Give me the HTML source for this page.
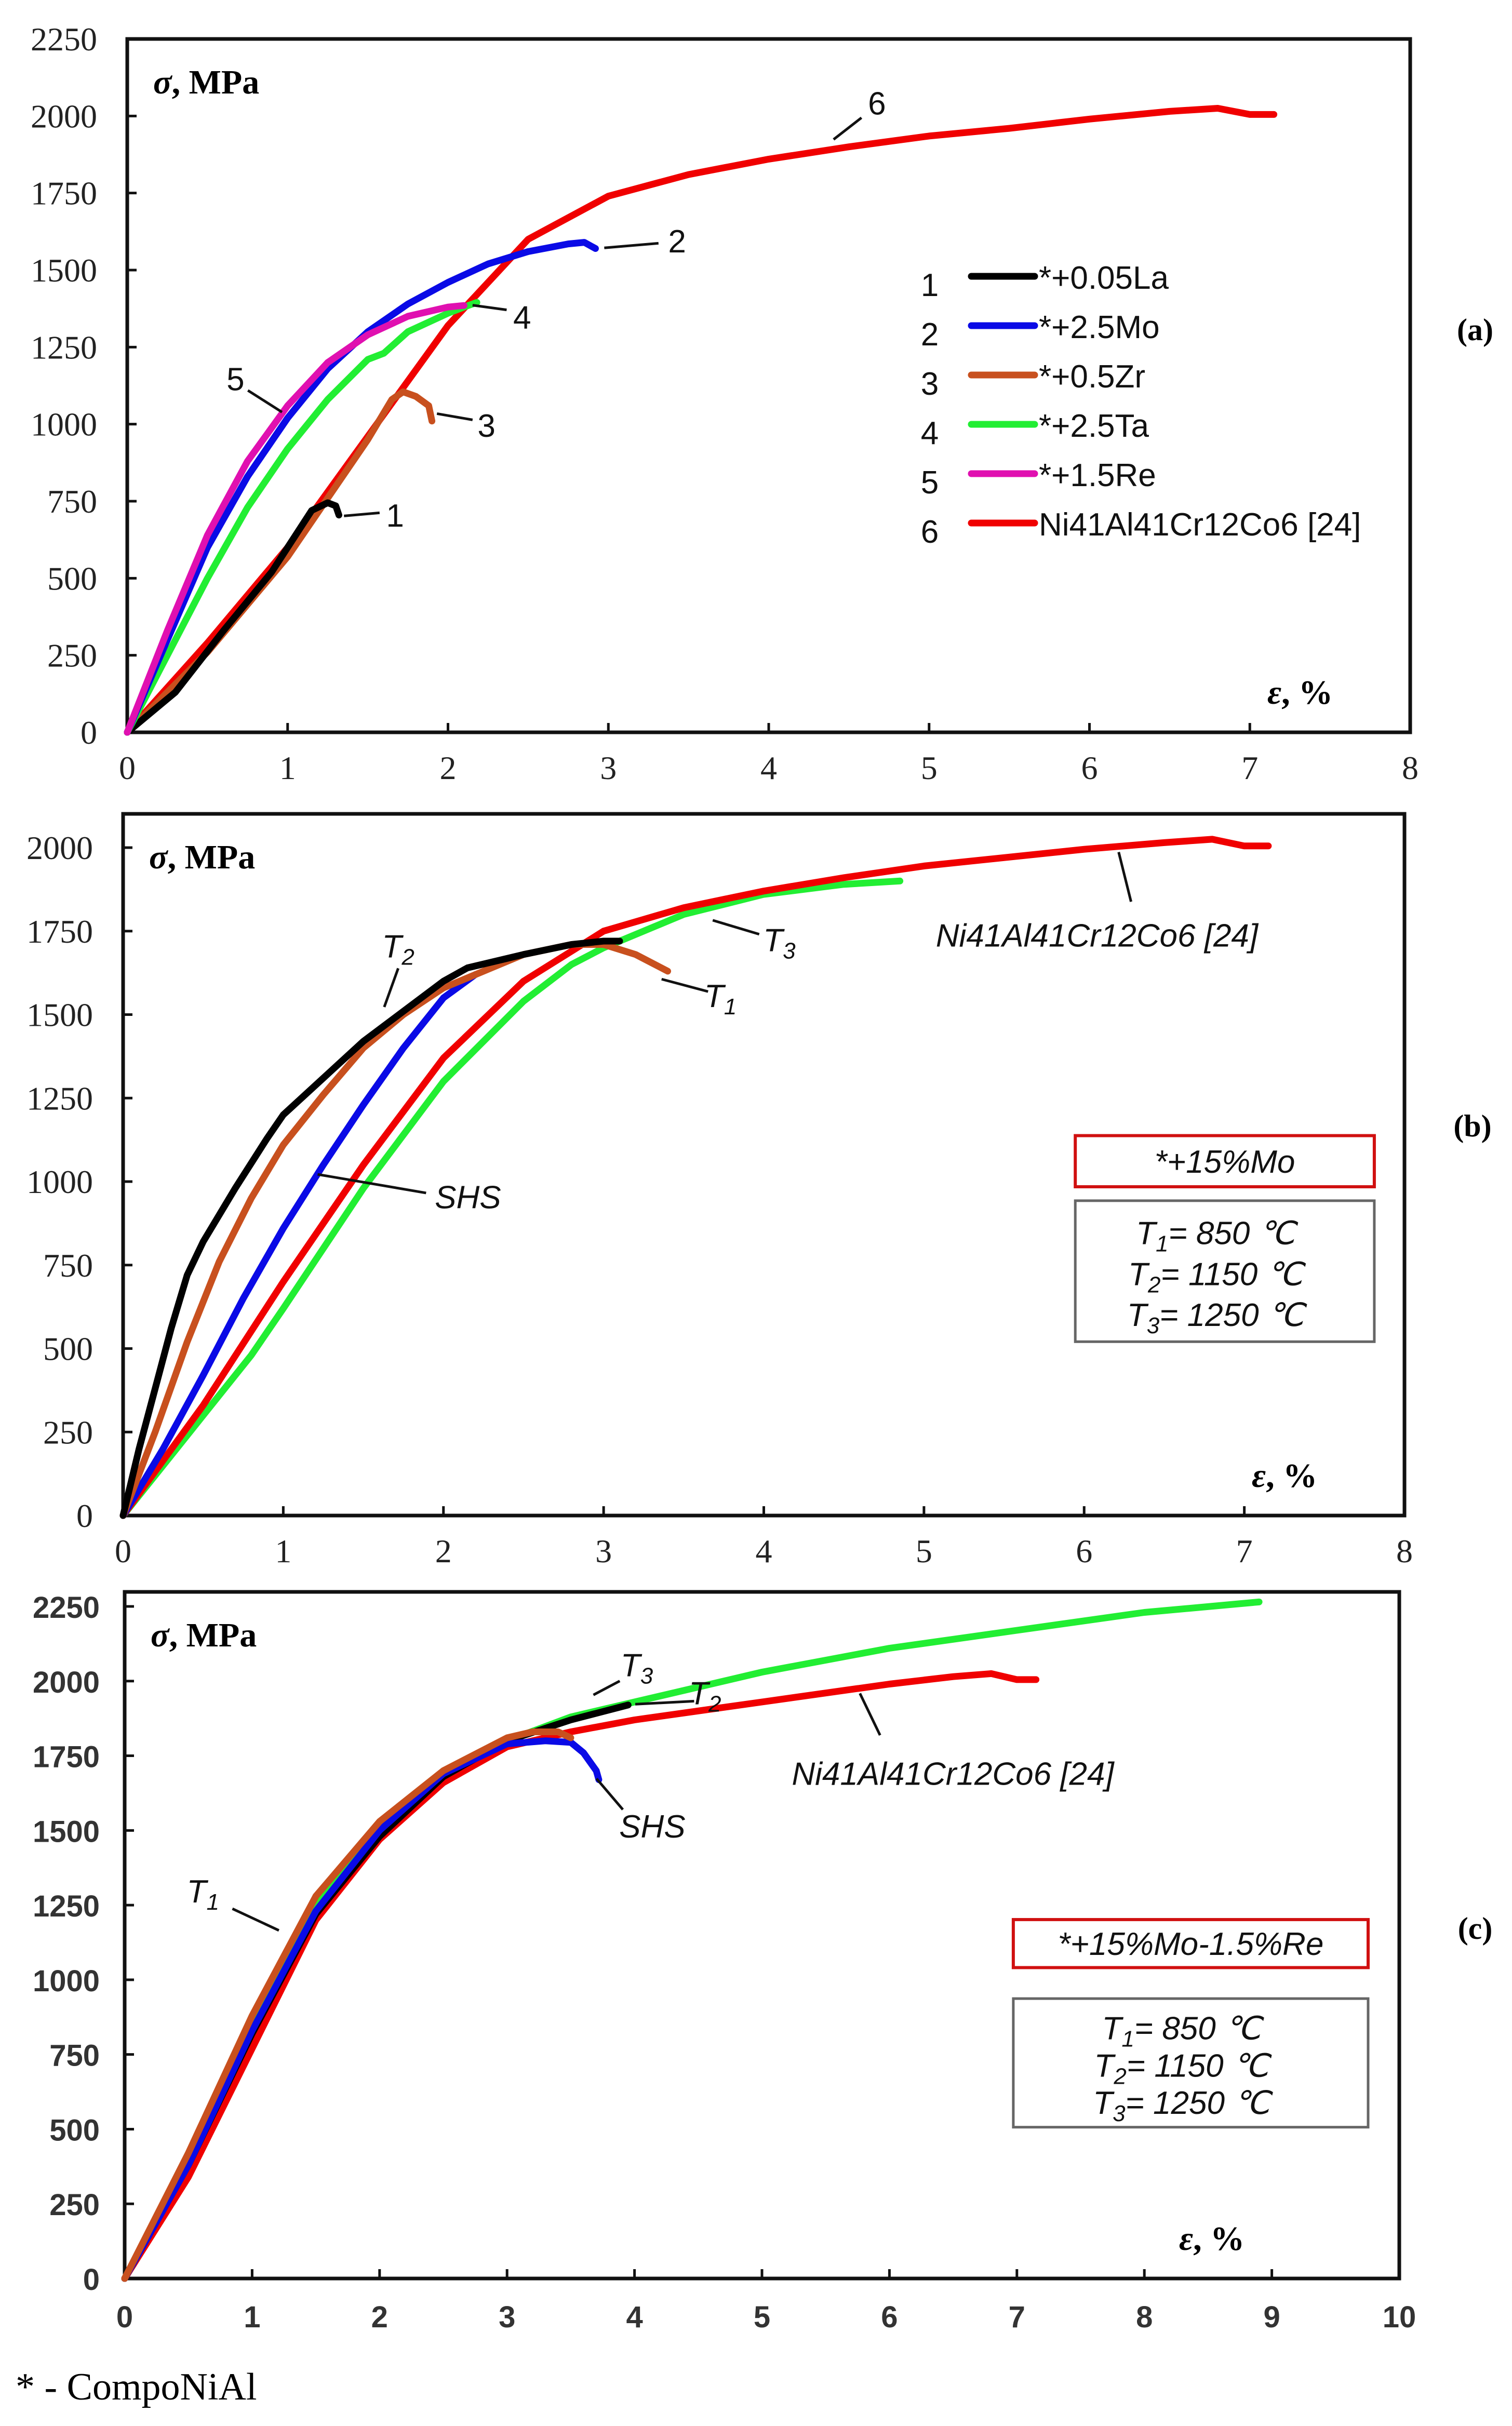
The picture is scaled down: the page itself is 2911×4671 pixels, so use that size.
<!DOCTYPE html>
<html><head><meta charset="utf-8"><style>
html,body{margin:0;padding:0;background:#fff;}
svg{display:block;}
.tk{font-family:"Liberation Serif",serif;font-size:64px;fill:#222;}
.tks{font-family:"Liberation Sans",sans-serif;font-size:58px;fill:#333;font-weight:bold;}
.ax{font-family:"Liberation Serif",serif;font-size:66px;font-weight:bold;fill:#000;}
.lg{font-family:"Liberation Sans",sans-serif;font-size:62px;fill:#111;}
.an{font-family:"Liberation Sans",sans-serif;font-size:62px;fill:#111;}
.it{font-family:"Liberation Sans",sans-serif;font-size:62px;font-style:italic;fill:#111;}
.pl{font-family:"Liberation Serif",serif;font-size:60px;font-weight:bold;fill:#000;}
</style></head><body>
<svg id="fig" width="2911" height="4671" viewBox="0 0 2911 4671" xmlns="http://www.w3.org/2000/svg"></svg>
<script>
// ---- Panel (a) data: strain %, stress MPa ----
const aLaX=[0,0.3,0.6,0.9,1.05,1.15,1.25,1.3,1.32];
const aLaY=[0,130,330,520,640,720,745,735,705];
const aMoX=[0,0.25,0.5,0.75,1,1.25,1.5,1.75,2,2.25,2.5,2.75,2.85,2.92];
const aMoY=[0,300,600,830,1020,1180,1300,1390,1460,1520,1560,1585,1590,1570];
const aZrX=[0,0.5,1,1.25,1.5,1.65,1.72,1.8,1.88,1.9];
const aZrY=[0,260,570,760,950,1080,1105,1090,1060,1010];
const aTaX=[0,0.25,0.5,0.75,1,1.25,1.5,1.6,1.75,2,2.1,2.18];
const aTaY=[0,250,500,730,920,1080,1210,1230,1300,1360,1380,1395];
const aReX=[0,0.25,0.5,0.75,1,1.25,1.5,1.75,2,2.1];
const aReY=[0,330,640,880,1060,1200,1290,1350,1380,1385];
const aRefX=[0,0.5,1,1.5,2,2.5,3,3.5,4,4.5,5,5.5,6,6.5,6.8,7,7.15];
const aRefY=[0,290,600,960,1320,1600,1740,1810,1860,1900,1935,1960,1990,2015,2025,2005,2005];
// ---- Panel (b) data ----
const bT2X=[0,0.1,0.2,0.3,0.4,0.5,0.7,0.9,1,1.25,1.5,1.75,2,2.15,2.5,2.8,3,3.1];
const bT2Y=[0,200,380,560,720,820,980,1130,1200,1310,1420,1510,1600,1640,1680,1710,1720,1720];
const bT1X=[0,0.2,0.4,0.6,0.8,1,1.25,1.5,1.75,2,2.5,2.8,3,3.2,3.4];
const bT1Y=[0,250,520,760,950,1110,1260,1400,1500,1580,1680,1710,1710,1680,1630];
const bShsX=[0,0.25,0.5,0.75,1,1.25,1.5,1.75,2,2.2];
const bShsY=[0,200,420,650,860,1050,1230,1400,1550,1620];
const bRefX=[0,0.5,1,1.5,2,2.5,3,3.5,4,4.5,5,5.5,6,6.5,6.8,7,7.15];
const bRefY=[0,330,700,1050,1370,1600,1750,1820,1870,1910,1945,1970,1995,2015,2025,2005,2005];
const bT3X=[0,0.25,0.5,0.8,1,1.25,1.5,2,2.5,2.8,3,3.5,4,4.5,4.85];
const bT3Y=[0,150,300,480,620,800,980,1300,1540,1650,1700,1800,1860,1890,1900];
// ---- Panel (c) data ----
const cT3X=[0,0.5,1,1.5,2,2.5,3,3.5,4,5,6,7,8,8.9];
const cT3Y=[0,400,850,1250,1500,1680,1800,1880,1930,2030,2110,2170,2230,2265];
const cT2X=[0,0.5,1,1.5,2,2.5,3,3.5,3.95];
const cT2Y=[0,380,820,1220,1480,1680,1800,1870,1920];
const cShsX=[0,0.5,1,1.5,2,2.5,3,3.3,3.5,3.6,3.7,3.72];
const cShsY=[0,380,830,1230,1500,1690,1790,1800,1795,1760,1700,1670];
const cT1X=[0,0.5,1,1.5,2,2.5,3,3.2,3.4,3.5];
const cT1Y=[0,420,880,1280,1530,1700,1810,1830,1830,1810];
const cRefX=[0,0.5,1,1.5,2,2.5,3,3.5,4,5,6,6.5,6.8,7,7.15];
const cRefY=[0,340,770,1200,1470,1660,1780,1830,1870,1930,1990,2015,2025,2005,2005];
// ---- tick labels ----
const yTicksA=[0,250,500,750,1000,1250,1500,1750,2000,2250];
const xTicksA=[0,1,2,3,4,5,6,7,8];
const yTicksB=[0,250,500,750,1000,1250,1500,1750,2000];
const xTicksB=[0,1,2,3,4,5,6,7,8];
const yTicksC=[0,250,500,750,1000,1250,1500,1750,2000,2250];
const xTicksC=[0,1,2,3,4,5,6,7,8,9,10];
const legendLabels=["*+0.05La","*+2.5Mo","*+0.5Zr","*+2.5Ta","*+1.5Re","Ni41Al41Cr12Co6 [24]"];

const NS="http://www.w3.org/2000/svg";
const svg=document.getElementById('fig');
const K=2.983;
function mk(tag,attrs,parent,text){const e=document.createElementNS(NS,tag);for(const k in attrs)e.setAttribute(k,attrs[k]);if(text!==undefined)e.textContent=text;(parent||svg).appendChild(e);return e;}

function panel(cfg){
  const g=mk('g',{});
  
  
  const sx=v=>cfg.x0+(v-cfg.xmin)*(cfg.x1-cfg.x0)/(cfg.xmax-cfg.xmin);
  const sy=v=>cfg.y0-v*cfg.ppm;
  const fr=mk('rect',{x:cfg.x0,y:cfg.top,width:cfg.x1-cfg.x0,height:cfg.y0-cfg.top,fill:'none',stroke:'#111','stroke-width':7},g);
  
  
  cfg.yt.forEach(v=>{
    const y=sy(v);
    if(v>0&&y>cfg.top+2)mk('line',{x1:cfg.x0,x2:cfg.x0+18,y1:y,y2:y,stroke:'#111','stroke-width':5},g);
    const t=mk('text',{x:cfg.x0-(cfg.sans?48:58),y:y+22,'text-anchor':'end','class':cfg.sans?'tks':'tk'},g,String(v));
    
    
  });
  cfg.xt.forEach(v=>{
    const x=sx(v);
    if(v>0&&v<cfg.xmax)mk('line',{x1:x,x2:x,y1:cfg.y0,y2:cfg.y0-18,stroke:'#111','stroke-width':5},g);
    const t=mk('text',{x:x,y:cfg.y0+(cfg.sans?94:90),'text-anchor':'middle','class':cfg.sans?'tks':'tk'},g,String(v));
    
    
  });
  const yl=mk('text',{x:cfg.x0+50,y:cfg.top+105,'class':'ax'},g);
  
  
  mk('tspan',{'font-style':'italic'},yl,'σ');mk('tspan',{},yl,', MPa');
  const xl=mk('text',{x:cfg.xlx,y:cfg.y0-55,'class':'ax'},g);
  
  
  mk('tspan',{'font-style':'italic'},xl,'ε');mk('tspan',{},xl,', %');
  cfg.series.forEach(s=>{
    let d='';
    s.x.forEach((v,i)=>{d+=(i?'L':'M')+sx(v).toFixed(1)+','+sy(s.y[i]).toFixed(1);});
    const p=mk('path',{d:d,fill:'none',stroke:s.c,'stroke-width':13,'stroke-linejoin':'round','stroke-linecap':'round'},g);
    
    
  });
  const pl=mk('text',{x:cfg.plx,y:cfg.ply,'text-anchor':'middle','class':'pl'},g,cfg.label);
  
  
  return g;
}
const BLK='#000',BLU='#0a0ae6',ORG='#c8501e',GRN='#22ee33',MAG='#e010b0',RED='#f00000';

panel({name:'panel-a',x0:245,x1:2715,xmin:0,xmax:8,y0:1410,top:75,ppm:(1410-75)/2250,yt:yTicksA,xt:xTicksA,xlx:2440,label:'(a)',plx:2840,ply:655,
 series:[{n:'curve-6-ref',x:aRefX,y:aRefY,c:RED},{n:'curve-3-zr',x:aZrX,y:aZrY,c:ORG},{n:'curve-1-la',x:aLaX,y:aLaY,c:BLK},
 {n:'curve-4-ta',x:aTaX,y:aTaY,c:GRN},{n:'curve-2-mo',x:aMoX,y:aMoY,c:BLU},{n:'curve-5-re',x:aReX,y:aReY,c:MAG}]});
panel({name:'panel-b',x0:237,x1:2704,xmin:0,xmax:8,y0:2918,top:1567,ppm:1286/2000,yt:yTicksB,xt:xTicksB,xlx:2410,label:'(b)',plx:2835,ply:2188,
 series:[{n:'curve-t3',x:bT3X,y:bT3Y,c:GRN},{n:'curve-ref',x:bRefX,y:bRefY,c:RED},{n:'curve-shs',x:bShsX,y:bShsY,c:BLU},
 {n:'curve-t1',x:bT1X,y:bT1Y,c:ORG},{n:'curve-t2',x:bT2X,y:bT2Y,c:BLK}]});
panel({name:'panel-c',x0:240,x1:2694,xmin:0,xmax:10,y0:4387,top:3065,ppm:(4387-3093)/2250,yt:yTicksC,xt:xTicksC,xlx:2270,label:'(c)',plx:2840,ply:3733,sans:true,
 series:[{n:'curve-t3',x:cT3X,y:cT3Y,c:GRN},{n:'curve-ref',x:cRefX,y:cRefY,c:RED},{n:'curve-t2',x:cT2X,y:cT2Y,c:BLK},
 {n:'curve-shs',x:cShsX,y:cShsY,c:BLU},{n:'curve-t1',x:cT1X,y:cT1Y,c:ORG}]});

// legend (a)
const lcol=[BLK,BLU,ORG,GRN,MAG,RED];
const lg=mk('g',{});


legendLabels.forEach((lab,i)=>{
  const y=532+i*95;
  const e=mk('g',{},lg);
  
  
  mk('text',{x:1790,y:y+38,'text-anchor':'middle','class':'lg'},e,String(i+1));
  mk('line',{x1:1870,x2:1992,y1:y,y2:y,stroke:lcol[i],'stroke-width':13,'stroke-linecap':'round'},e);
  mk('text',{x:2000,y:y+24,'class':'lg'},e,lab);
});

function note(name,txt,tx,ty,lx1,ly1,lx2,ly2,cls,sub){
  const g=mk('g',{});
  
  
  if(lx1!==null)mk('line',{x1:lx1*K,y1:ly1*K,x2:lx2*K,y2:ly2*K,stroke:'#111','stroke-width':5},g);
  const t=mk('text',{x:tx*K,y:ty*K,'text-anchor':'middle','class':cls},g,txt);
  if(sub)mk('tspan',{'font-size':'44px',dy:'14'},t,sub);
}
// panel a annotations
note('label-6','6',566,74,538,90,556,76,'an');
note('label-2','2',437,163,390,160,425,157,'an');
note('label-4','4',337,212,305,197,327,200,'an');
note('label-3','3',314,282,282,267,305,271,'an');
note('label-1','1',255,340,222,333,245,331,'an');
note('label-5','5',152,252,160,252,182,266,'an');
// panel b
note('label-t2','T',257,618,248,650,257,625,'it','2');
note('label-t3','T',503,614,460,594,490,603,'it','3');
note('label-t1','T',465,650,427,632,457,640,'it','1');
note('label-shs','SHS',302,780,205,758,275,770,'it');
note('label-ref-b','Ni41Al41Cr12Co6 [24]',708,611,722,550,730,582,'it');
// panel c
note('label-t3-c','T',411,1082,383,1094,400,1085,'it','3');
note('label-t2-c','T',455,1100,410,1100,448,1098,'it','2');
note('label-ref-c','Ni41Al41Cr12Co6 [24]',615,1152,555,1093,568,1120,'it');
note('label-shs-c','SHS',421,1186,385,1148,402,1168,'it');
note('label-t1-c','T',131,1228,150,1232,180,1246,'it','1');

function boxes(name,x,y,w,h,title,y2,h2){
  const g=mk('g',{});
  
  
  mk('rect',{x:x*K,y:y*K,width:w*K,height:h*K,fill:'#fff',stroke:'#d01010','stroke-width':6},g);
  mk('text',{x:(x+w/2)*K,y:(y+h/2)*K+22,'text-anchor':'middle','class':'it'},g,title);
  mk('rect',{x:x*K,y:y2*K,width:w*K,height:h2*K,fill:'#fff',stroke:'#666','stroke-width':5},g);
  const vals=[['1','= 850 ℃'],['2','= 1150 ℃'],['3','= 1250 ℃']];
  vals.forEach((v,i)=>{
    const t=mk('text',{x:(x+w/2-6)*K,y:(y2+h2*(0.22+i*0.29))*K+24,'text-anchor':'middle','class':'it'},g,'T');
    mk('tspan',{'font-size':'44px',dy:'14'},t,v[0]);
    mk('tspan',{dy:'-14'},t,v[1]);
  });
}
boxes('condition-box-b',694,733,193,33,'*+15%Mo',775,91);
boxes('condition-box-c',654,1239,229,31,'*+15%Mo-1.5%Re',1290,83);

const fn=mk('text',{x:30,y:4620,'font-family':'Liberation Serif, serif','font-size':'74px',fill:'#000'},svg,'* - CompoNiAl');


</script>
</body></html>
